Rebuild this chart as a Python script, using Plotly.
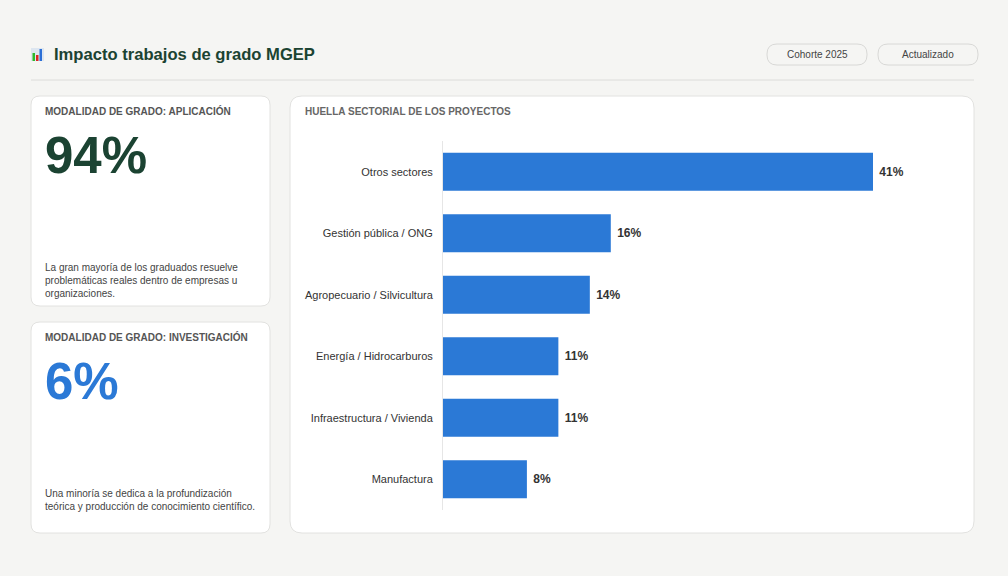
import plotly.graph_objects as go

W, H = 1008, 576

sectores = [
    "Otros sectores",
    "Gestión pública / ONG",
    "Agropecuario / Silvicultura",
    "Energía / Hidrocarburos",
    "Infraestructura / Vivienda",
    "Manufactura",
]
porcentajes = [41, 16, 14, 11, 11, 8]

kpi_titulos = ["MODALIDAD DE GRADO: APLICACIÓN", "MODALIDAD DE GRADO: INVESTIGACIÓN"]
kpi_valores = ["94%", "6%"]
kpi_textos = [
    "La gran mayoría de los graduados resuelve<br>problemáticas reales dentro de empresas u<br>organizaciones.",
    "Una minoría se dedica a la profundización<br>teórica y producción de conocimiento científico.",
]
pildoras = ["Cohorte 2025", "Actualizado"]

GREEN = "#1b4332"
BLUE = "#2b79d6"
FONT = "Liberation Sans, Arial, sans-serif"


def px(x):
    return x / W


def py(y):
    return 1 - y / H


def rounded(x0, y0, x1, y1, r, fill, line="#e2e2e0"):
    # rounded rectangle path in paper coords from pixel box
    X0, X1 = px(x0), px(x1)
    Y0, Y1 = py(y0), py(y1)
    rx, ry = r / W, r / H
    path = (
        f"M {X0 + rx},{Y0} L {X1 - rx},{Y0} Q {X1},{Y0} {X1},{Y0 - ry} "
        f"L {X1},{Y1 + ry} Q {X1},{Y1} {X1 - rx},{Y1} L {X0 + rx},{Y1} "
        f"Q {X0},{Y1} {X0},{Y1 + ry} L {X0},{Y0 - ry} Q {X0},{Y0} {X0 + rx},{Y0} Z"
    )
    return dict(type="path", xref="paper", yref="paper", path=path,
                fillcolor=fill, line=dict(color=line, width=1), layer="below")


def note(text, x, y, size, color, xanchor="left", yanchor="middle", **kw):
    return dict(text=text, x=px(x), y=py(y), xref="paper", yref="paper",
                xanchor=xanchor, yanchor=yanchor, showarrow=False,
                font=dict(size=size, color=color, family=FONT), **kw)


fig = go.Figure()
fig.add_trace(go.Bar(
    x=porcentajes,
    y=sectores,
    orientation="h",
    marker=dict(color=BLUE, line=dict(width=0)),
    width=0.62,
    text=[f"<b>&nbsp;{v}%</b>" for v in porcentajes],
    textposition="outside",
    textfont=dict(size=12, color="#333333", family=FONT),
    cliponaxis=False,
    hoverinfo="skip",
))

shapes = [
    rounded(31, 96, 270, 306, 9, "white"),
    rounded(31, 322, 270, 533, 9, "white"),
    rounded(290, 96, 974, 533, 12, "white"),
    dict(type="line", xref="paper", yref="paper", x0=px(31), x1=px(974),
         y0=py(80), y1=py(80), line=dict(color="#dcdcda", width=1)),
    # chart icon
    dict(type="rect", xref="paper", yref="paper", x0=px(31), x1=px(44),
         y0=py(61), y1=py(48), fillcolor="#dde6f0", line=dict(width=0)),
    dict(type="rect", xref="paper", yref="paper", x0=px(32.5), x1=px(35),
         y0=py(61), y1=py(53), fillcolor="#2eb82e", line=dict(width=0)),
    dict(type="rect", xref="paper", yref="paper", x0=px(36), x1=px(38.5),
         y0=py(61), y1=py(55), fillcolor="#d92626", line=dict(width=0)),
    dict(type="rect", xref="paper", yref="paper", x0=px(39.5), x1=px(42),
         y0=py(61), y1=py(49), fillcolor="#2b6fd6", line=dict(width=0)),
]

annotations = [
    note("<b>Impacto trabajos de grado MGEP</b>", 52, 54, 16.6, GREEN),
    note("<b>HUELLA SECTORIAL DE LOS PROYECTOS</b>", 303, 111, 10, "#666666"),
]

for i, label in enumerate(pildoras):
    x0 = 767 + i * 111
    shapes.append(rounded(x0, 44, x0 + 100, 65, 10, "#f5f5f3", line="#d8d8d6"))
    annotations.append(note(label, x0 + 50, 54.5, 10, "#444444", xanchor="center"))

for i in range(2):
    top = 96 + i * 226
    color = GREEN if i == 0 else BLUE
    annotations.append(note(f"<b>{kpi_titulos[i]}</b>", 43, top + 15, 10, "#555555"))
    annotations.append(note(f"<b>{kpi_valores[i]}</b>", 43, top + 59, 51, color))
    annotations.append(note(kpi_textos[i], 43, top + 164, 10, "#444444",
                            yanchor="top", align="left"))

fig.update_layout(
    width=W, height=H,
    margin=dict(l=0, r=0, t=0, b=0),
    paper_bgcolor="#f5f5f3",
    plot_bgcolor="rgba(0,0,0,0)",
    showlegend=False,
    shapes=shapes,
    annotations=annotations,
    xaxis=dict(domain=[px(443), px(959)], range=[0, 49.2], visible=False, fixedrange=True),
    yaxis=dict(domain=[py(510), py(141)], autorange="reversed", showgrid=False,
               showline=True, linecolor="#e6e6e6", linewidth=1, ticks="",
               ticklabelstandoff=7,
               tickfont=dict(size=11, color="#333333", family=FONT), fixedrange=True),
    font=dict(family=FONT),
)

fig.write_html("out.html", config={"displayModeBar": False},
               post_script="document.body.style.margin='0';")
